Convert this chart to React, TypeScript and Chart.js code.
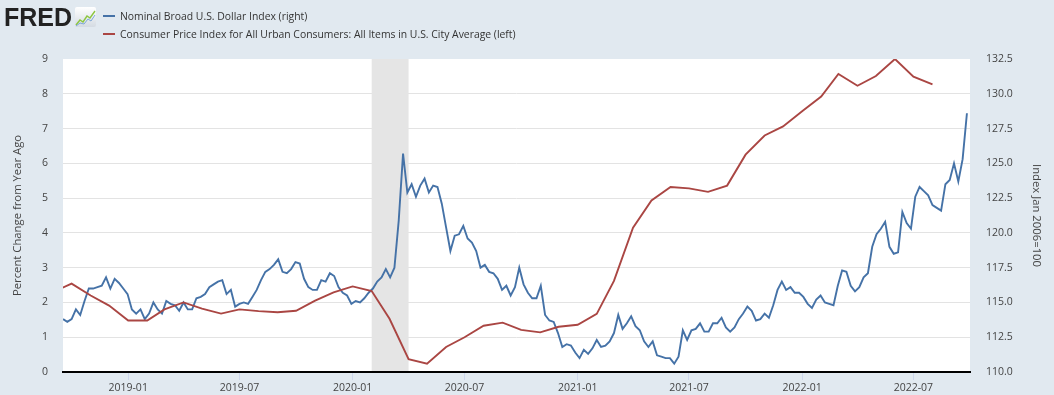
import React, { useEffect, useRef } from "react";
import { Chart, registerables } from "chart.js";

Chart.register(...registerables);

// ---------- data ----------
const cpiMonths = [
  "2018-09", "2018-10", "2018-11", "2018-12",
  "2019-01", "2019-02", "2019-03", "2019-04", "2019-05", "2019-06", "2019-07", "2019-08", "2019-09", "2019-10", "2019-11", "2019-12",
  "2020-01", "2020-02", "2020-03", "2020-04", "2020-05", "2020-06", "2020-07", "2020-08", "2020-09", "2020-10", "2020-11", "2020-12",
  "2021-01", "2021-02", "2021-03", "2021-04", "2021-05", "2021-06", "2021-07", "2021-08", "2021-09", "2021-10", "2021-11", "2021-12",
  "2022-01", "2022-02", "2022-03", "2022-04", "2022-05", "2022-06", "2022-07", "2022-08",
];
const cpiValues = [
  2.3, 2.54, 2.2, 1.91,
  1.48, 1.48, 1.8, 2.0, 1.82, 1.68, 1.8, 1.75, 1.72, 1.76, 2.05, 2.29,
  2.46, 2.33, 1.53, 0.37, 0.24, 0.72, 1.0, 1.33, 1.42, 1.21, 1.14, 1.3,
  1.36, 1.67, 2.62, 4.15, 4.93, 5.32, 5.28, 5.18, 5.36, 6.25, 6.8, 7.06,
  7.5, 7.92, 8.57, 8.23, 8.51, 9.0, 8.49, 8.27,
];

// Nominal Broad U.S. Dollar Index, weekly readings starting at this date
const dollarStartDate = "2018-09-17";
const dollarWeeklyValues = [
  113.8, 113.6, 113.8, 114.5, 114.1, 115.1, 116.0, 116.0, 116.1, 116.2,
  116.8, 116.0, 116.7, 116.4, 116.0, 115.6, 114.5, 114.2, 114.5, 113.8,
  114.2, 115.0, 114.5, 114.2, 115.1, 114.9, 114.8, 114.4, 115.0, 114.5,
  114.5, 115.3, 115.4, 115.6, 116.1, 116.3, 116.5, 116.6, 115.6, 115.9,
  114.7, 114.9, 115.0, 114.9, 115.4, 115.9, 116.6, 117.2, 117.4, 117.7,
  118.1, 117.2, 117.1, 117.4, 117.9, 117.8, 116.7, 116.1, 115.9, 115.9,
  116.6, 116.5, 117.1, 116.9, 116.1, 115.7, 115.5, 114.9, 115.1, 115.0,
  115.3, 115.7, 116.0, 116.5, 116.8, 117.4, 116.8, 117.5, 120.9, 125.7,
  122.9, 123.5, 122.6, 123.4, 123.9, 122.9, 123.4, 123.3, 122.1, 120.4,
  118.7, 119.8, 119.9, 120.5, 119.6, 119.3, 118.7, 117.5, 117.7, 117.2,
  117.1, 116.7, 115.9, 116.2, 115.5, 116.1, 117.5, 116.3, 115.7, 115.3,
  115.3, 116.2, 114.1, 113.7, 113.6, 112.8, 111.8, 112.0, 111.9, 111.4,
  111.0, 111.6, 111.3, 111.7, 112.3, 111.8, 111.9, 112.2, 112.8, 114.1,
  113.1, 113.5, 114.0, 113.3, 113.0, 112.2, 111.8, 112.2, 111.2, 111.1,
  111.0, 111.0, 110.6, 111.1, 113.0, 112.3, 113.0, 113.1, 113.5, 112.9,
  112.9, 113.5, 113.5, 113.9, 113.2, 112.9, 113.2, 113.8, 114.2, 114.7,
  114.4, 113.7, 113.8, 114.2, 113.9, 114.8, 115.9, 116.5, 115.9, 116.1,
  115.7, 115.7, 115.4, 114.9, 114.6, 115.2, 115.5, 115.0, 114.9, 114.8,
  116.2, 117.3, 117.2, 116.2, 115.8, 116.1, 116.8, 117.1, 119.0, 119.9,
  120.3, 120.8, 119.0, 118.5, 118.6, 121.5, 120.7, 120.3, 122.6, 123.3,
  123.0, 122.7, 122.0, 121.8, 121.6, 123.5, 123.8, 125.0, 123.7, 125.3, 128.6,
];

const xTickMonths = ["2019-01", "2019-07", "2020-01", "2020-07", "2021-01", "2021-07", "2022-01", "2022-07"];
const xRange = ["2018-09-17", "2022-10-01"];
const recessionRange = ["2020-02-01", "2020-04-01"];
const leftTicks = { min: 0, max: 9, step: 1 };
const rightTicks = { min: 110, max: 132.5, step: 2.5 };

// ---------- helpers ----------
const DAY_MS = 86400000;
function toDay(s: string): number {
  const [y, m, d] = s.split("-").map(Number);
  return Date.UTC(y, m - 1, d || 1) / DAY_MS;
}

const FONT = "'Open Sans', 'DejaVu Sans', sans-serif";
const BLUE = "#4572a7";
const RED = "#aa4643";

export default function App() {
  const ref = useRef<HTMLCanvasElement | null>(null);

  useEffect(() => {
    if (!ref.current) return;
    const cpiData = cpiMonths.map((m, i) => ({ x: toDay(m + "-01"), y: cpiValues[i] }));
    const d0 = toDay(dollarStartDate);
    const dollarData = dollarWeeklyValues.map((v, i) => ({ x: d0 + 7 * i, y: v }));
    const tickDays = xTickMonths.map((m) => toDay(m + "-01"));

    const fredPlugin = {
      id: "fredBackground",
      beforeDraw(chart: any) {
        const { ctx, chartArea: a } = chart;
        ctx.save();
        ctx.fillStyle = "#ffffff";
        ctx.fillRect(a.left, a.top, a.right - a.left, a.bottom - a.top);
        ctx.restore();
      },
      beforeDatasetsDraw(chart: any) {
        const { ctx, chartArea: a } = chart;
        const xs = chart.scales.x;
        const x1 = xs.getPixelForValue(toDay(recessionRange[0]));
        const x2 = xs.getPixelForValue(toDay(recessionRange[1]));
        ctx.save();
        ctx.fillStyle = "#e5e5e5";
        ctx.fillRect(x1, a.top, x2 - x1, a.bottom - a.top);
        ctx.restore();
      },
    };

    const chart = new Chart(ref.current, {
      type: "line",
      data: {
        datasets: [
          {
            label: "Consumer Price Index for All Urban Consumers: All Items in U.S. City Average (left)",
            data: cpiData,
            yAxisID: "yLeft",
            borderColor: RED,
            backgroundColor: RED,
            borderWidth: 1.9,
            pointRadius: 0,
            tension: 0,
          },
          {
            label: "Nominal Broad U.S. Dollar Index (right)",
            data: dollarData,
            yAxisID: "yRight",
            borderColor: BLUE,
            backgroundColor: BLUE,
            borderWidth: 1.9,
            pointRadius: 0,
            tension: 0,
          },
        ],
      },
      options: {
        responsive: false,
        animation: false,
        events: [],
        layout: { padding: { top: 59, left: 0, right: 0, bottom: 0 } },
        plugins: { legend: { display: false }, tooltip: { enabled: false } },
        scales: {
          x: {
            type: "linear",
            min: toDay(xRange[0]),
            max: toDay(xRange[1]),
            afterFit: (s: any) => { s.height = 23; },
            afterBuildTicks: (s: any) => { s.ticks = tickDays.map((v) => ({ value: v })); },
            grid: { display: true, drawOnChartArea: false, drawTicks: true, tickLength: 8, color: "#ccd6eb", lineWidth: 1 },
            border: { display: true, color: "#000000", width: 2, z: 1 },
            ticks: {
              autoSkip: false,
              maxRotation: 0,
              padding: 2,
              color: "#444444",
              font: { family: FONT, size: 10.5 },
              callback: (_v: any, i: number) => xTickMonths[i],
            },
          },
          yLeft: {
            type: "linear",
            position: "left",
            min: leftTicks.min,
            max: leftTicks.max,
            afterFit: (s: any) => { s.width = 63; },
            grid: {
              drawTicks: false,
              color: (c: any) => (c.tick && c.tick.value === leftTicks.max ? "rgba(0,0,0,0)" : "#e3e3e3"),
              lineWidth: 1,
            },
            border: { display: false },
            ticks: {
              stepSize: leftTicks.step,
              padding: 15,
              color: "#444444",
              font: { family: FONT, size: 10.5 },
            },
            title: {
              display: true,
              text: "Percent Change from Year Ago",
              color: "#444444",
              font: { family: FONT, size: 11.3 },
              padding: { top: 11, bottom: 0 },
            },
          },
          yRight: {
            type: "linear",
            position: "right",
            min: rightTicks.min,
            max: rightTicks.max,
            afterFit: (s: any) => { s.width = 84; },
            grid: { display: false, drawOnChartArea: false, drawTicks: false },
            border: { display: false },
            ticks: {
              stepSize: rightTicks.step,
              padding: 16,
              color: "#444444",
              font: { family: FONT, size: 10.5 },
              callback: (v: any) => Number(v).toFixed(1),
            },
            title: {
              display: true,
              text: "Index Jan 2006=100",
              color: "#444444",
              font: { family: FONT, size: 11.3 },
              padding: { top: 10.5, bottom: 0 },
            },
          },
        },
      },
      plugins: [fredPlugin],
    } as any);

    return () => chart.destroy();
  }, []);

  const legendText: React.CSSProperties = {
    position: "absolute",
    left: 120,
    fontFamily: FONT,
    fontSize: 10.4,
    lineHeight: "14px",
    color: "#333333",
    whiteSpace: "nowrap",
  };

  return (
    <div
      style={{
        position: "fixed",
        left: 0,
        top: 0,
        width: 1054,
        height: 395,
        background: "#e1e9f0",
        overflow: "hidden",
      }}
    >
      <canvas ref={ref} width={1054} height={395} style={{ position: "absolute", left: 0, top: 0, display: "block" }} />
      <div
        style={{
          position: "absolute",
          left: 4,
          top: 4.7,
          fontFamily: "'Liberation Sans', Arial, sans-serif",
          fontWeight: 700,
          fontSize: 25,
          lineHeight: "25px",
          color: "#222222",
        }}
      >
        FRED
      </div>
      <svg width="21" height="20" style={{ position: "absolute", left: 75, top: 7 }}>
        <defs>
          <linearGradient id="fredIcon" x1="0" y1="0" x2="0" y2="1">
            <stop offset="0" stopColor="#ffffff" />
            <stop offset="1" stopColor="#d4dbe2" />
          </linearGradient>
        </defs>
        <rect x="0" y="0" width="21" height="20" rx="2" fill="url(#fredIcon)" />
        <polyline points="1,18 5,13 8,15 12,9 15,11 20,4" fill="none" stroke="#8dc63f" strokeWidth="1.4" />
        <polyline points="1,19 5,16 9,17 13,12 16,14 20,8" fill="none" stroke="#7da7d9" strokeWidth="1" />
      </svg>
      <div style={{ position: "absolute", left: 103, top: 15, width: 12, height: 2, background: BLUE }} />
      <div style={{ ...legendText, top: 9 }}>Nominal Broad U.S. Dollar Index (right)</div>
      <div style={{ position: "absolute", left: 103, top: 33, width: 12, height: 2, background: RED }} />
      <div style={{ ...legendText, top: 27 }}>
        Consumer Price Index for All Urban Consumers: All Items in U.S. City Average (left)
      </div>
    </div>
  );
}
